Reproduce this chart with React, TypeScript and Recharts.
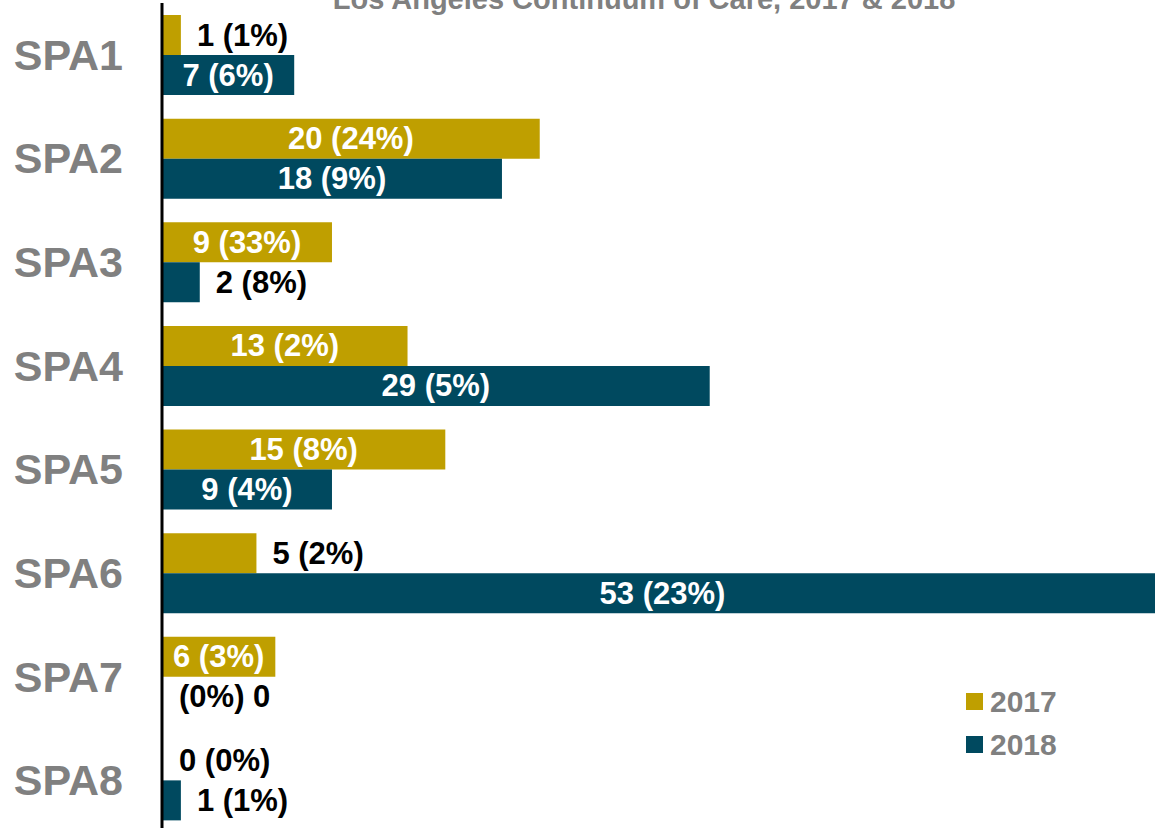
import { BarChart, Bar, XAxis, YAxis, LabelList, Customized } from "recharts";

const categories = ["SPA1", "SPA2", "SPA3", "SPA4", "SPA5", "SPA6", "SPA7", "SPA8"];
const values2017 = [1, 20, 9, 13, 15, 5, 6, 0];
const values2018 = [7, 18, 2, 29, 9, 53, 0, 1];
const labels2017 = ["1 (1%)", "20 (24%)", "9 (33%)", "13 (2%)", "15 (8%)", "5 (2%)", "6 (3%)", "0 (0%)"];
const labels2018 = ["7 (6%)", "18 (9%)", "2 (8%)", "29 (5%)", "9 (4%)", "53 (23%)", "(0%) 0", "1 (1%)"];
const seriesNames = ["2017", "2018"];

const GOLD = "#BF9F00";
const TEAL = "#00495F";
const GREY = "#808080";
const FONT = "'Liberation Sans', Arial, sans-serif";
const LABEL_SIZE = 31;

const data = categories.map((name, i) => ({
    name,
    y2017: values2017[i],
    y2018: values2018[i],
}));

// rough Arial bold widths, good enough to decide inside/outside
const charW: Record<string, number> = { " ": 0.278, "(": 0.333, ")": 0.333, "%": 0.889 };
const textWidth = (s: string) =>
    s.split("").reduce((acc, c) => acc + (charW[c] ?? 0.556), 0) * LABEL_SIZE;

// label content looks the text up by category name (zero bars would shift indexes)
const makeLabel = (labels: string[]) => (props: any) => {
    const { x, y, width, height, value } = props;
    const idx = categories.indexOf(value);
    if (idx < 0) return null;
    const text = labels[idx];
    const w = textWidth(text);
    const inside = w + 10 < width;
    return (
        <text
            x={inside ? x + width / 2 : x + width + 16}
            y={y + height / 2}
            textAnchor={inside ? "middle" : "start"}
            dominantBaseline="central"
            fill={inside ? "#fff" : "#000"}
            fontFamily={FONT}
            fontWeight="bold"
            fontSize={LABEL_SIZE}
        >
            {text}
        </text>
    );
};

const SpaTick = (props: any) => {
    const { y, payload } = props;
    return (
        <text
            x={123}
            y={y}
            textAnchor="end"
            dominantBaseline="central"
            fill={GREY}
            fontFamily={FONT}
            fontWeight="bold"
            fontSize={43}
        >
            {payload.value}
        </text>
    );
};

const Title = () => (
    <text
        x={644}
        y={9}
        textAnchor="middle"
        fill={GREY}
        fontFamily={FONT}
        fontWeight="bold"
        fontSize={29}
    >
        Los Angeles Continuum of Care, 2017 &amp; 2018
    </text>
);

export default function App() {
    return (
        <div style={{ width: 1155, height: 828, overflow: "hidden", position: "relative" }}>
            <style>{"body{margin:0;overflow:hidden}"}</style>
            <BarChart
                width={1163}
                height={832}
                data={data}
                layout="vertical"
                margin={{ top: 3, right: 0, bottom: 0, left: 0 }}
                barSize={40}
                barGap={0}
            >
                <XAxis type="number" domain={[0, 53]} hide />
                <YAxis
                    type="category"
                    dataKey="name"
                    width={162}
                    axisLine={{ stroke: "#000", strokeWidth: 3 }}
                    tickLine={false}
                    tick={<SpaTick />}
                    interval={0}
                />
                <Bar dataKey="y2017" name="2017" fill={GOLD} minPointSize={1} isAnimationActive={false}>
                    <LabelList dataKey="name" content={makeLabel(labels2017)} />
                </Bar>
                <Bar dataKey="y2018" name="2018" fill={TEAL} minPointSize={1} isAnimationActive={false}>
                    <LabelList dataKey="name" content={makeLabel(labels2018)} />
                </Bar>
                <Customized component={Title} />
            </BarChart>
            <div
                style={{
                    position: "absolute",
                    left: 966,
                    top: 680,
                    fontFamily: FONT,
                    fontWeight: "bold",
                    fontSize: 30,
                    color: GREY,
                }}
            >
                {seriesNames.map((n, i) => (
                    <div key={n} style={{ display: "flex", alignItems: "center", height: 43 }}>
                        <span style={{ width: 17, height: 17, background: i === 0 ? GOLD : TEAL, marginRight: 7 }} />
                        <span>{n}</span>
                    </div>
                ))}
            </div>
        </div>
    );
}
